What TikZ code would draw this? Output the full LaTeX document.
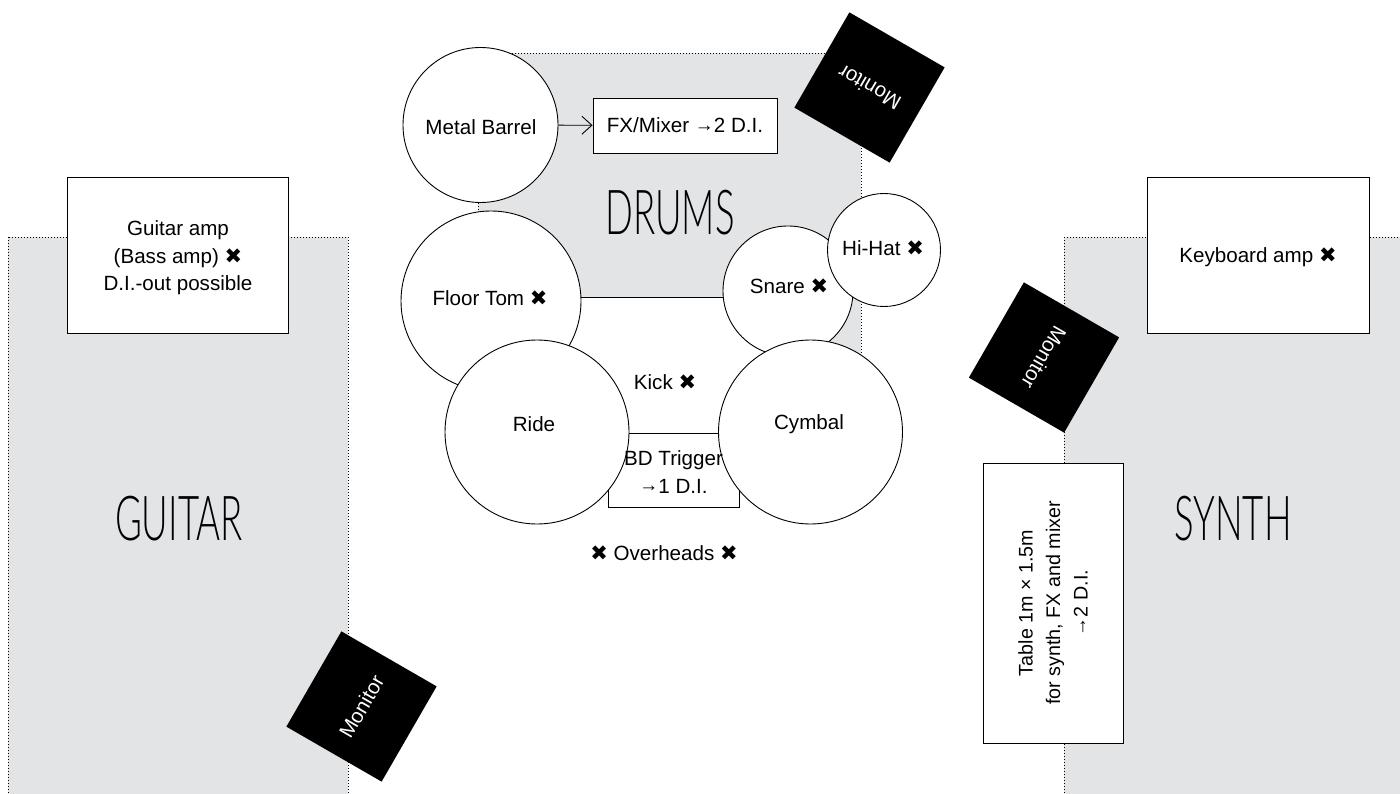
\documentclass[tikz,border=0pt]{standalone}
\usepackage{fontspec}
\usepackage{tikz}
\usetikzlibrary{shapes,arrows.meta}
\setmainfont{Liberation Sans}
\newfontfamily\markfont{DejaVu Sans}
\newfontfamily\titlefont[FakeStretch=0.59]{Lato Light}
\newcommand{\xmark}{{\markfont\fontsize{21}{20}\selectfont ✖}}
\newcommand{\toarrow}{\raisebox{1.5pt}{\fontsize{19}{20}\selectfont →}}
\definecolor{zonegrey}{HTML}{E3E4E6}
\tikzstyle{zone} = [draw, fill=zonegrey, line width=0.9pt, dash pattern=on 1pt off 2pt]
\tikzstyle{zonetitle} = [font=\titlefont\fontsize{62}{70}\selectfont, inner sep=0pt]
\tikzstyle{block} = [draw, fill=white, rectangle, line width=0.9pt, inner sep=0pt, align=center]
\tikzstyle{drum} = [draw, fill=white, circle, line width=0.9pt, inner sep=0pt]
\tikzstyle{monitor} = [fill=black, text=white, rectangle, inner sep=0pt, minimum width=110pt, minimum height=110pt]
\tikzstyle{label} = [inner sep=0pt, align=center]

\begin{document}
\begin{tikzpicture}[x=1pt, y=-1pt, >={Straight Barb[length=10pt,width=18pt]}, font=\fontsize{20.6}{27.5}\selectfont]
    \clip (0,0) rectangle (1400,794);
    \fill [white] (0,0) rectangle (1400,794);
    % We start by placing the grey zones
    \draw [zone] (8,237) rectangle (348,810);
    \draw [zone] (1064,237) rectangle (1420,810);
    \draw [zone] (478,53) rectangle (861,400);
    \node [zonetitle] (guitar) at (179,519) {GUITAR};
    \node [zonetitle] (synth) at (1233,519) {SYNTH};
    \node [zonetitle] (drums) at (670,213) {DRUMS};
    % Amps and the table
    \node [block, minimum width=221pt, minimum height=156pt] (guitaramp) at (178,255) {};
    \node [label] (guitartext) at (178,258) {Guitar amp\\(Bass amp) \xmark\\D.I.-out possible};
    \node [block, minimum width=222pt, minimum height=156pt] (keyboardamp) at (1258,255) {};
    \node [label] (keyboardtext) at (1258,257) {Keyboard amp \xmark};
    \node [block, minimum width=140pt, minimum height=280pt] (table) at (1053,603) {};
    \node [label, rotate=90, font=\fontsize{19.7}{27.5}\selectfont] (tabletext) at (table.center) {Table 1m × 1.5m\\for synth, FX and mixer\\\toarrow 2 D.I.};
    % Now the kit, back to front
    \node [block, minimum width=184pt, minimum height=55pt] (mixer) at (685,125.5) {FX/Mixer \toarrow 2 D.I.};
    \node [block, minimum width=230pt, minimum height=136pt] (kick) at (655,365) {};
    \node [block, minimum width=131pt, minimum height=74pt] (trigger) at (673.5,470) {};
    \node [drum, minimum size=155pt] (barrel) at (480.5,125) {};
    \node [drum, minimum size=180pt] (floortom) at (491,301) {};
    \node [drum, minimum size=130pt] (snare) at (788,291) {};
    \node [drum, minimum size=113pt] (hihat) at (884,250) {};
    \node [drum, minimum size=184pt] (ride) at (537,432) {};
    \node [drum, minimum size=184pt] (cymbal) at (810.5,432) {};
    % Labels go on top of the circles
    \node [label] (barreltext) at (481,127) {Metal Barrel};
    \node [label] (floortomtext) at (490,298) {Floor Tom \xmark};
    \node [label] (snaretext) at (789,286) {Snare \xmark};
    \node [label] (hihattext) at (883,248) {Hi-Hat \xmark};
    \node [label] (ridetext) at (534,424) {Ride};
    \node [label] (cymbaltext) at (809,424) {Cymbal};
    \node [label] (kicktext) at (665,382) {Kick \xmark};
    \node [label] (triggertext) at (673.5,472) {BD Trigger\\\toarrow 1 D.I.};
    \node [label] (overheads) at (664,553) {\xmark{} Overheads \xmark};
    % The three monitors
    \node [monitor, rotate=150] (monitorone) at (869.5,87.5) {Monitor};
    \node [monitor, rotate=240] (monitortwo) at (1044,357.5) {Monitor};
    \node [monitor, rotate=60] (monitorthree) at (361.5,706.5) {Monitor};
    % We draw the one edge
    \draw [->, line width=0.9pt] (barrel) -- (mixer);
\end{tikzpicture}
\end{document}
